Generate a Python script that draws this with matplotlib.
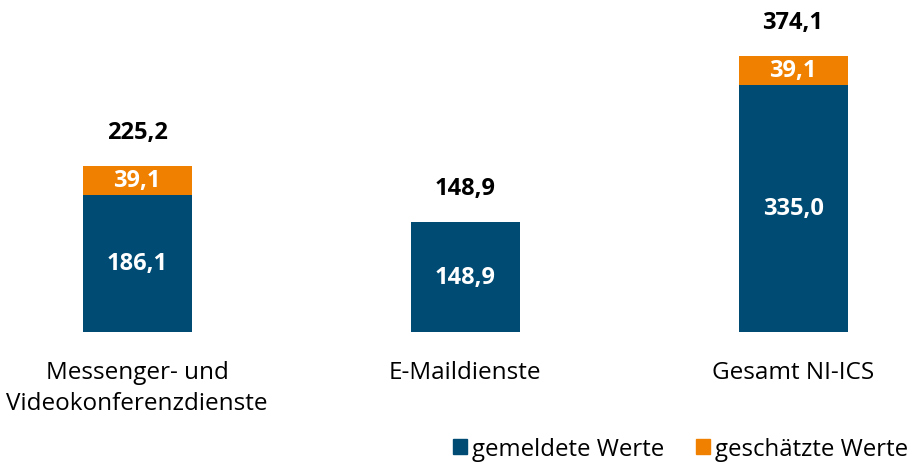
import numpy as np
import matplotlib.pyplot as plt
from matplotlib.patches import Patch

plt.rcParams['font.family'] = ['Open Sans', 'DejaVu Sans']

categories = ["Messenger- und\nVideokonferenzdienste", "E-Maildienste", "Gesamt NI-ICS"]
gemeldet = [186.1, 148.9, 335.0]
geschaetzt = [39.1, 0.0, 39.1]
gesamt = [225.2, 148.9, 374.1]

blue = '#004B73'
orange = '#F08000'

def fmt(v):
    return f"{v:.1f}".replace('.', ',')

fig = plt.figure(figsize=(9.15, 4.64), dpi=100)
ax = fig.add_axes([0, 131/464, 1, 333/464])
x = np.arange(len(categories))
w = 109/328

ax.bar(x, gemeldet, w, color=blue)
ax.bar(x, geschaetzt, w, bottom=gemeldet, color=orange)

for i in range(len(x)):
    ax.text(x[i], gemeldet[i]/2, fmt(gemeldet[i]), ha='center', va='center',
            color='white', fontsize=17, fontweight='bold')
    if geschaetzt[i] > 0:
        ax.text(x[i], gemeldet[i] + geschaetzt[i]/2, fmt(geschaetzt[i]), ha='center',
                va='center', color='white', fontsize=17, fontweight='bold')
    ax.text(x[i], gesamt[i] + 46, fmt(gesamt[i]), ha='center', va='center',
            color='black', fontsize=17, fontweight='bold')
    ax.text(x[i], -38, categories[i], ha='center', va='top', fontsize=17.5,
            linespacing=1.38)

ax.set_xlim(-137/328, 2 + 122/328)
ax.set_ylim(0, 333/0.738)
ax.axis('off')

handles = [Patch(color=blue, label='gemeldete Werte'),
           Patch(color=orange, label='geschätzte Werte')]
fig.legend(handles=handles, loc='lower right', bbox_to_anchor=(1.016, -0.042), ncol=2,
           frameon=False, fontsize=17.3, handlelength=0.6, handleheight=0.6,
           handletextpad=0.2, columnspacing=1.3)

fig.savefig('out.png', dpi=100)
